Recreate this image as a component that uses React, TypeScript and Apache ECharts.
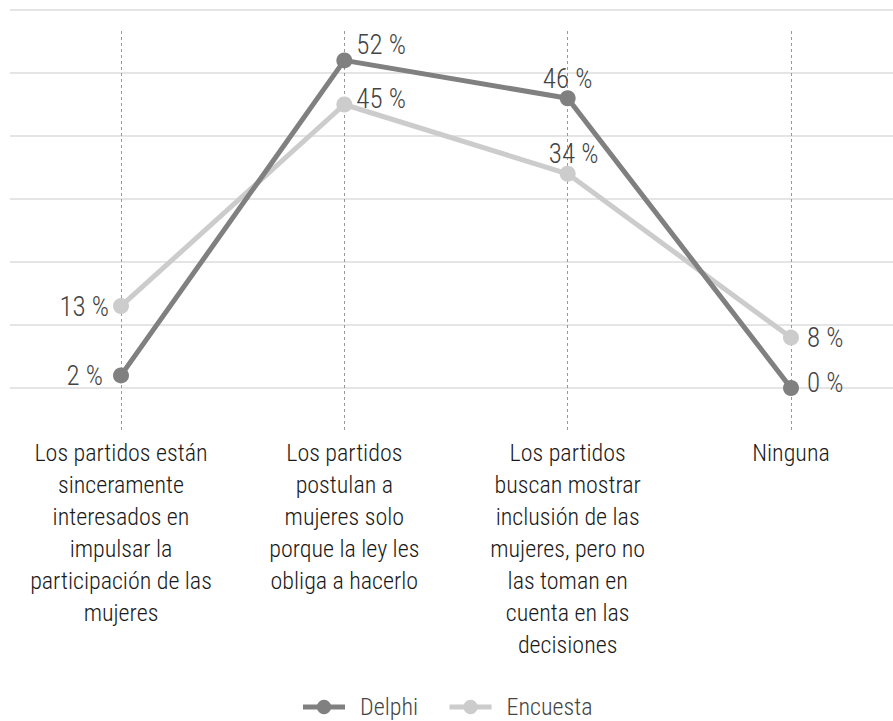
import React, { useEffect, useRef } from "react";
import * as echarts from "echarts";

const categories: string[] = [
  "Los partidos están\nsinceramente\ninteresados en\nimpulsar la\nparticipación de las\nmujeres",
  "Los partidos\npostulan a\nmujeres solo\nporque la ley les\nobliga a hacerlo",
  "Los partidos\nbuscan mostrar\ninclusión de las\nmujeres, pero no\nlas toman en\ncuenta en las\ndecisiones",
  "Ninguna",
];
const delphi: number[] = [2, 52, 46, 0];
const encuesta: number[] = [13, 45, 34, 8];
const yTicks: number[] = [0, 10, 20, 30, 40, 50, 60];

const FONT = "'Roboto Condensed', 'Liberation Sans Narrow', 'Arial Narrow', 'DejaVu Sans Condensed', sans-serif";

const delphiLabels = [
  { position: "left", distance: 10, offset: [0, 1] },
  { position: "right", distance: 4, offset: [0, -15] },
  { position: "top", distance: -2, offset: [0, 0] },
  { position: "right", distance: 8, offset: [0, -5] },
];
const encuestaLabels = [
  { position: "left", distance: 4, offset: [0, 1] },
  { position: "right", distance: 4, offset: [0, -6] },
  { position: "top", distance: -2, offset: [6, 0] },
  { position: "right", distance: 8, offset: [0, 0] },
];

export default function App() {
  const ref = useRef<HTMLDivElement>(null);
  useEffect(() => {
    if (!ref.current) return;
    const chart = echarts.init(ref.current, undefined, { renderer: "svg" });
    const labelBase = {
      show: true,
      formatter: "{c} %",
      fontFamily: FONT,
      fontWeight: 300,
      fontSize: 27,
      color: "#444444",
    };
    const mk = (vals: number[], labs: any[]) =>
      vals.map((v, i) => ({ value: v, label: { ...labelBase, ...labs[i] } }));
    chart.setOption({
      animation: false,
      backgroundColor: "#ffffff",
      textStyle: { fontFamily: FONT },
      grid: [
        { left: 10, right: 0, top: 10, bottom: 333 },
        { left: 121, right: 102, top: 10, bottom: 333 },
        { left: 121, right: 102, top: 31, bottom: 291 },
      ],
      xAxis: [
        { gridIndex: 0, type: "category", data: categories, show: false },
        { gridIndex: 1, type: "category", data: categories, boundaryGap: false, show: false },
        {
          gridIndex: 2,
          type: "category",
          data: categories,
          boundaryGap: false,
          axisLine: { show: false },
          axisTick: { show: false },
          splitLine: { show: true, lineStyle: { color: "#999999", width: 1, type: [3, 3] } },
          axisLabel: {
            show: true,
            interval: 0,
            margin: 7,
            fontFamily: FONT,
            fontWeight: 300,
            fontSize: 24,
            lineHeight: 32,
            color: "#1a1a1a",
            align: "center",
            verticalAlign: "top",
          },
        },
      ],
      yAxis: [
        {
          gridIndex: 0,
          type: "value",
          min: yTicks[0],
          max: yTicks[yTicks.length - 1],
          interval: yTicks[1] - yTicks[0],
          axisLabel: { show: false },
          axisLine: { show: false },
          axisTick: { show: false },
          splitLine: { show: true, lineStyle: { color: "#dddddd", width: 1.5 } },
        },
        {
          gridIndex: 1,
          type: "value",
          min: yTicks[0],
          max: yTicks[yTicks.length - 1],
          show: false,
          splitLine: { show: false },
        },
        { gridIndex: 2, type: "value", min: 0, max: 1, show: false, splitLine: { show: false } },
      ],
      legend: {
        data: ["Delphi", "Encuesta"],
        top: 690,
        left: "center",
        itemWidth: 42,
        itemHeight: 18,
        itemGap: 29,
        lineStyle: { width: 5 },
        textStyle: {
          fontFamily: FONT,
          fontWeight: 300,
          fontSize: 24,
          color: "#444444",
          padding: [0, 0, 0, 10],
        },
      },
      series: [
        {
          name: "Encuesta",
          type: "line",
          xAxisIndex: 1,
          yAxisIndex: 1,
          data: mk(encuesta, encuestaLabels),
          symbol: "circle",
          symbolSize: 16,
          color: "#cccccc",
          lineStyle: { color: "#cccccc", width: 5 },
          itemStyle: { color: "#cccccc" },
        },
        {
          name: "Delphi",
          type: "line",
          xAxisIndex: 1,
          yAxisIndex: 1,
          data: mk(delphi, delphiLabels),
          symbol: "circle",
          symbolSize: 16,
          color: "#808080",
          lineStyle: { color: "#808080", width: 5 },
          itemStyle: { color: "#808080" },
        },
      ],
    });
    return () => chart.dispose();
  }, []);
  return (
    <div
      ref={ref}
      style={{ position: "fixed", left: 0, top: 0, width: 893, height: 721, background: "#fff" }}
    />
  );
}
